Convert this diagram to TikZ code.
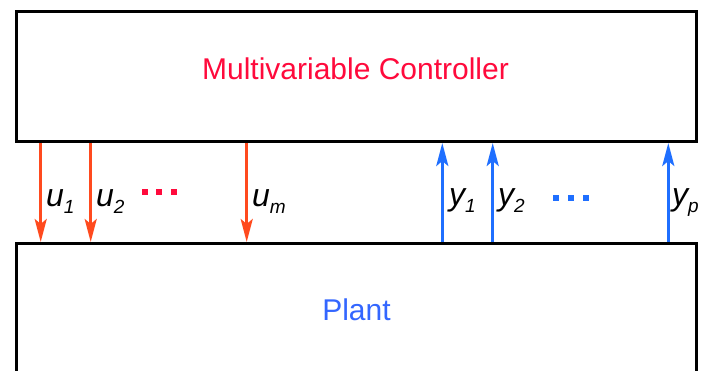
\documentclass[tikz,border=0pt]{standalone}
\usepackage{fontspec}
\setmainfont{Liberation Sans}
\usetikzlibrary{arrows.meta}
\definecolor{ctrlred}{HTML}{FF0A3C}
\definecolor{plantblue}{HTML}{3366FF}
\definecolor{uorange}{HTML}{FF4A1E}
\definecolor{yblue}{HTML}{1F6FFF}
\newcommand\siglbl[2]{\fontsize{32}{36}\selectfont\itshape #1\raisebox{-7pt}{\fontsize{19}{22}\selectfont #2}}
\begin{document}
\begin{tikzpicture}[x=1pt,y=-1pt,
  blockbox/.style={draw=black,line width=3pt,fill=white,inner sep=0pt,anchor=north west,minimum width=680pt},
  bigtext/.style={font=\fontsize{30}{36}\selectfont,inner sep=0pt},
  uarr/.style={draw=uorange,line width=3pt,-{Stealth[length=23pt,width=12pt,inset=5pt]}},
  yarr/.style={draw=yblue,line width=3pt,-{Stealth[length=23pt,width=12pt,inset=5pt]}},
  siglabel/.style={anchor=base west,inner sep=0pt},
  dotsq/.style={inner sep=0pt,minimum size=6pt}]
\useasboundingbox (0,0) rectangle (705,370);
\clip (0,0) rectangle (705,370);
\fill[white] (0,0) rectangle (705,370);
% blocks
\node[blockbox,minimum height=130pt] (ctrl) at (15,10) {};
\node[blockbox,minimum height=160pt] (plant) at (15,242) {};
\node[bigtext,text=ctrlred] (ctrltext) at (355.5,69) {Multivariable Controller};
\node[bigtext,text=plantblue] (planttext) at (356.5,310) {Plant};
% arrow positions
\coordinate (xu1) at (40.7,0);
\coordinate (xu2) at (90.7,0);
\coordinate (xum) at (246.7,0);
\coordinate (xy1) at (442.3,0);
\coordinate (xy2) at (492.7,0);
\coordinate (xyp) at (668.3,0);
\draw[uarr] (ctrl.south -| xu1) -- (plant.north -| xu1);
\draw[uarr] (ctrl.south -| xu2) -- (plant.north -| xu2);
\draw[uarr] (ctrl.south -| xum) -- (plant.north -| xum);
\draw[yarr] (plant.north -| xy1) -- (ctrl.south -| xy1);
\draw[yarr] (plant.north -| xy2) -- (ctrl.south -| xy2);
\draw[yarr] (plant.north -| xyp) -- (ctrl.south -| xyp);
% labels
\node[siglabel] (lu1) at (46,206) {\siglbl{u}{1}};
\node[siglabel] (lu2) at (96,206) {\siglbl{u}{2}};
\node[siglabel] (lum) at (252,206) {\siglbl{u}{m}};
\node[siglabel] (ly1) at (449,205) {\siglbl{y}{1}};
\node[siglabel] (ly2) at (498,205) {\siglbl{y}{2}};
\node[siglabel] (lyp) at (672,205) {\siglbl{y}{p}};
% dots
\foreach \i/\x in {1/144.5,2/158.5,3/173.5}{\node[dotsq,fill=ctrlred] (rd\i) at (\x,192) {};}
\foreach \i/\x in {1/555.5,2/570.5,3/586}{\node[dotsq,fill=yblue] (bd\i) at (\x,197.5) {};}
\end{tikzpicture}
\end{document}
